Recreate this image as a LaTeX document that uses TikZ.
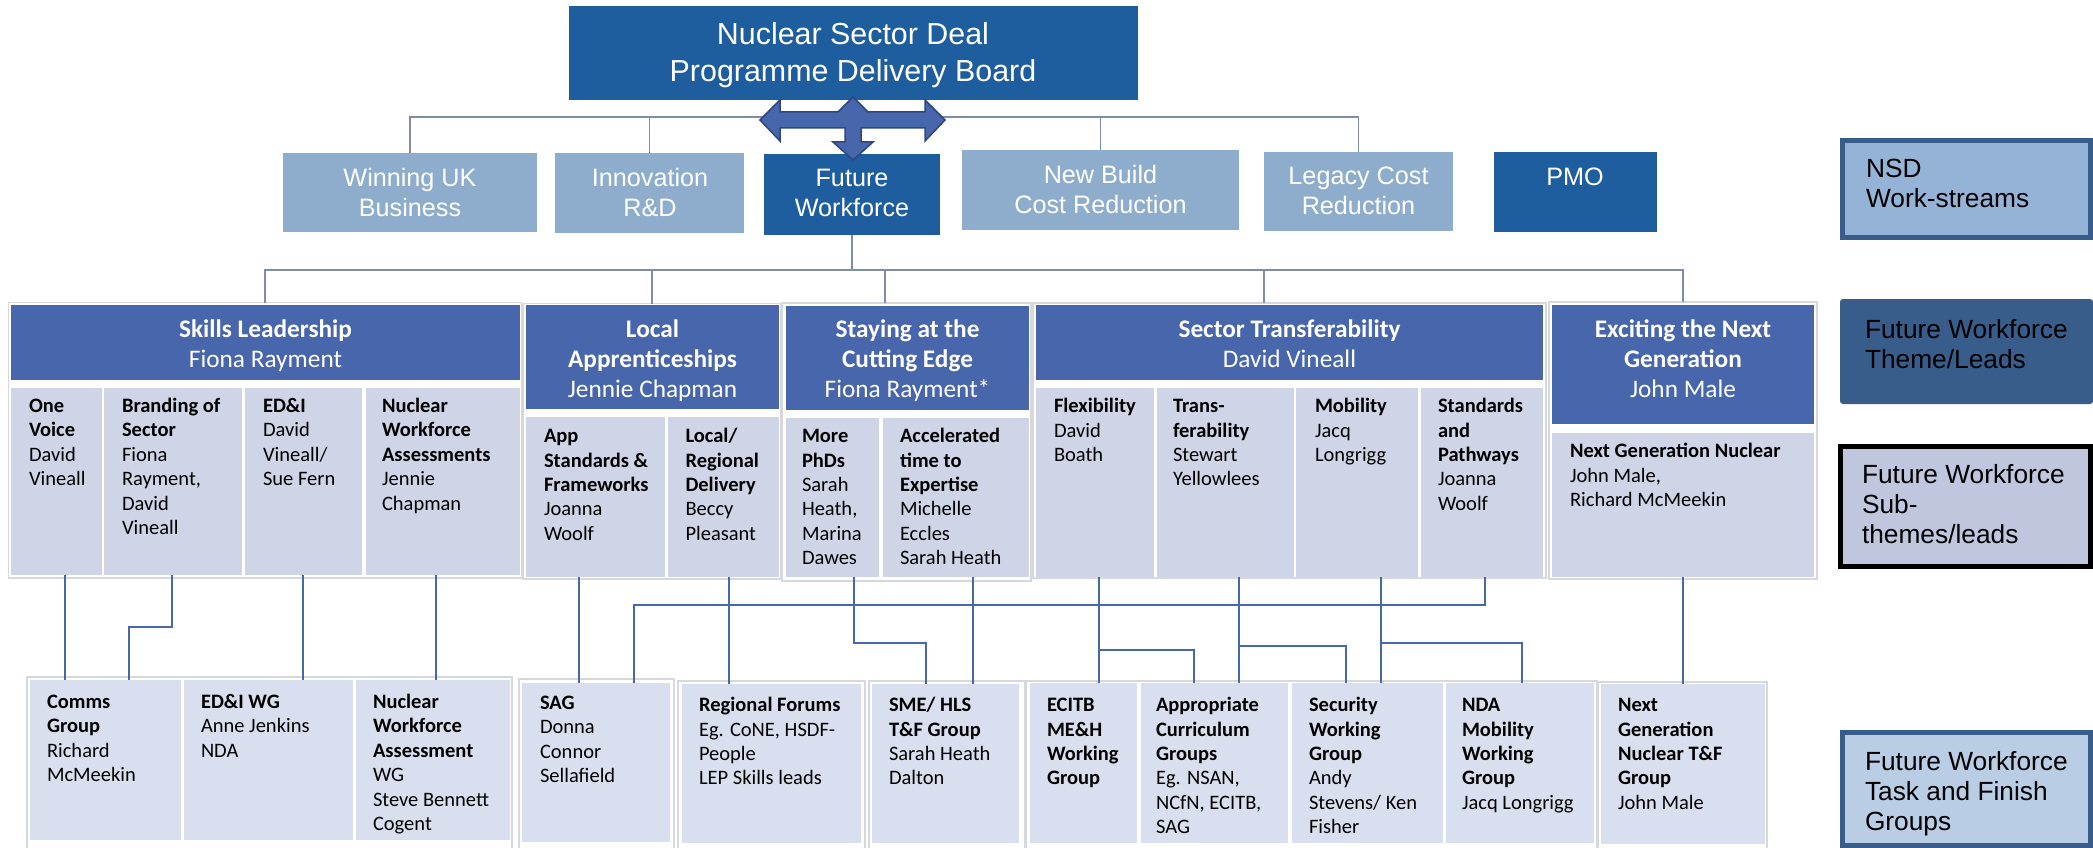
\documentclass[tikz,border=0pt]{standalone}
\usepackage{fontspec}
\setmainfont{Carlito}
\newfontfamily\arialf{Liberation Sans}
\definecolor{dkblue}{RGB}{31,94,158}
\definecolor{wsblue}{RGB}{142,173,205}
\definecolor{hdblue}{RGB}{72,102,172}
\definecolor{subcell}{RGB}{207,212,230}
\definecolor{taskcell}{RGB}{218,223,240}
\definecolor{contgray}{RGB}{214,216,222}
\definecolor{toplinec}{RGB}{128,140,168}
\definecolor{linkblue}{RGB}{72,104,172}
\definecolor{arrowfill}{RGB}{72,102,172}
\definecolor{arrowedge}{RGB}{46,70,128}
\definecolor{legnsd}{RGB}{149,179,215}
\definecolor{legedge}{RGB}{56,93,138}
\definecolor{legsub}{RGB}{192,198,221}
\definecolor{legtask}{RGB}{185,205,229}
\newcommand\fcell{\fontsize{20.5}{24.4}\selectfont}
\newcommand\fhead{\fontsize{25.3}{30.4}\selectfont}
\newcommand\fws{\arialf\fontsize{25.2}{30}\selectfont}
\newcommand\fboard{\arialf\fontsize{30.4}{36.7}\selectfont}
\newcommand\fleg{\arialf\fontsize{26.3}{30.2}\selectfont}
\newcommand\bx[6]{\node[bxs,#6,minimum width={(#4-#2)*1pt},minimum height={(#5-#3)*1pt}] (#1) at (#2,#3) {};}
\begin{document}
\begin{tikzpicture}[x=1pt,y=-1pt,
  bxs/.style={anchor=north west, inner sep=0pt, outer sep=0pt},
  txs/.style={anchor=north west, inner sep=0pt, outer sep=0pt, align=left},
  ctxs/.style={anchor=north, inner sep=0pt, outer sep=0pt, align=center},
  contour/.style={draw=contgray, line width=1.2pt},
  toplink/.style={draw=toplinec, line width=1.6pt},
  sublink/.style={draw=linkblue, line width=2pt},
  dkfill/.style={fill=dkblue},
  wsfill/.style={fill=wsblue},
  hdfill/.style={fill=hdblue},
  subfill/.style={fill=subcell},
  taskfill/.style={fill=taskcell},
  celltext/.style={txs, font=\fcell, text=black},
  headtext/.style={ctxs, font=\fhead, text=white},
  wstext/.style={ctxs, font=\fws, text=white},
  legtext/.style={txs, font=\fleg, text=black}
]
\useasboundingbox (0,0) rectangle (2093,848);
\fill[white] (0,0) rectangle (2093,848);

% ---------- coordinates for bars
\coordinate (wsbar) at (0,117);
\coordinate (thbar) at (0,270);

% ---------- top level
\bx{board}{569}{6}{1138}{100}{dkfill}
\bx{win}{283}{153}{537}{232}{wsfill}
\bx{inn}{555}{153}{744}{233}{wsfill}
\bx{fw}{764}{154}{940}{235}{dkfill}
\bx{nb}{962}{150}{1239}{230}{wsfill}
\bx{leg}{1264}{152}{1453}{231}{wsfill}
\bx{pmo}{1494}{152}{1657}{232}{dkfill}

% ---------- theme containers
\bx{skC}{8.5}{302.5}{521.5}{578}{contour}
\bx{laC}{523}{303.5}{781}{579}{contour}
\bx{stC}{782}{303}{1031}{581}{contour}
\bx{seC}{1033}{303}{1546}{578}{contour}
\bx{exC}{1549}{302}{1817}{579}{contour}

% ---------- headers
\bx{skH}{11}{305}{520}{380}{hdfill}
\bx{laH}{526}{305}{779}{409}{hdfill}
\bx{stH}{786}{306}{1029}{410}{hdfill}
\bx{seH}{1036}{305}{1543}{380}{hdfill}
\bx{exH}{1552}{305}{1814}{424}{hdfill}

% ---------- sub-theme cells
\bx{ov}{11}{388}{102}{575}{subfill}
\bx{br}{104}{388}{242}{575}{subfill}
\bx{ed}{245}{388}{362}{575}{subfill}
\bx{nw}{366}{388}{520}{575}{subfill}
\bx{as}{526}{417}{665}{577}{subfill}
\bx{lr}{668}{417}{779}{577}{subfill}
\bx{mp}{786}{418}{879}{577}{subfill}
\bx{ac}{883}{418}{1029}{577}{subfill}
\bx{fx}{1036}{388}{1154}{577}{subfill}
\bx{tr}{1157}{388}{1294}{577}{subfill}
\bx{mo}{1296}{388}{1418}{577}{subfill}
\bx{sp}{1421}{388}{1543}{577}{subfill}
\bx{ngn}{1552}{433}{1814}{577}{subfill}

% ---------- task group containers
\bx{gA}{27}{677}{512}{852}{contour}
\bx{gS}{519}{679}{674}{852}{contour}
\bx{gR}{678}{681}{865}{852}{contour}
\bx{gM}{869}{681}{1025}{852}{contour}
\bx{gX}{1026.5}{681}{1597}{852}{contour}
\bx{gN}{1598.5}{682}{1767}{852}{contour}

% ---------- task cells
\bx{cg}{30}{680}{181}{840}{taskfill}
\bx{ew}{184}{680}{353}{840}{taskfill}
\bx{nwg}{356}{680}{510}{840}{taskfill}
\bx{sag}{522}{683}{670}{842}{taskfill}
\bx{rf}{682}{684}{861}{843}{taskfill}
\bx{sme}{872}{684}{1019}{843}{taskfill}
\bx{ec}{1030}{683}{1137}{843}{taskfill}
\bx{apc}{1141}{683}{1288}{843}{taskfill}
\bx{sec}{1292}{683}{1443}{843}{taskfill}
\bx{nda}{1446}{683}{1594}{843}{taskfill}
\bx{ngt}{1601}{684}{1765}{844}{taskfill}

% ---------- legend
\node[bxs, fill=legnsd, draw=legedge, line width=5pt, minimum width=248pt, minimum height=96pt] (lgA) at (1842.5,141) {};
\node[bxs, fill=legedge, rounded corners=3pt, minimum width=253pt, minimum height=105pt] (lgB) at (1840,299) {};
\node[bxs, fill=legsub, draw=black, line width=5pt, minimum width=250.5pt, minimum height=120pt] (lgC) at (1840,446.5) {};
\node[bxs, fill=legtask, draw=legedge, line width=5pt, minimum width=248pt, minimum height=113pt] (lgD) at (1842.5,732.5) {};

% ---------- connectors: board level
\draw[toplink] (win.north) |- (leg.north |- wsbar) -- (leg.north);
\draw[toplink] (inn.north) -- (inn.north |- wsbar);
\draw[toplink] (nb.north) -- (nb.north |- wsbar);

% ---------- connectors: future workforce to themes
\draw[toplink] (fw.south) -- (fw.south |- thbar);
\draw[toplink] (skC.north) |- (exC.north |- thbar) -- (exC.north);
\draw[toplink] (laC.north) -- (laC.north |- thbar);
\draw[toplink] (stC.north -| 885,0) -- (885,270);
\draw[toplink] (seC.north -| 1264,0) -- (1264,270);

% ---------- connectors: sub-themes to task groups
\draw[sublink] (ov.south -| 65,0) -- (cg.north -| 65,0);
\draw[sublink] (br.south -| 172,0) -- ++(0,52) -| (cg.north -| 129,0);
\draw[sublink] (ed.south -| 303,0) -- (ew.north -| 303,0);
\draw[sublink] (nw.south -| 436,0) -- (nwg.north -| 436,0);
\draw[sublink] (as.south -| 579,0) -- (sag.north -| 579,0);
\draw[sublink] (sp.south -| 1485,0) -- ++(0,28) -| (sag.north -| 634,0);
\draw[sublink] (lr.south -| 729,0) -- (rf.north -| 729,0);
\draw[sublink] (mp.south -| 854,0) -- ++(0,66) -| (sme.north -| 926,0);
\draw[sublink] (ac.south -| 973,0) -- (sme.north -| 973,0);
\draw[sublink] (fx.south -| 1099,0) -- (ec.north -| 1099,0);
\draw[sublink] (fx.south -| 1099,0) -- ++(0,73) -| (apc.north -| 1194,0);
\draw[sublink] (tr.south -| 1239,0) -- (apc.north -| 1239,0);
\draw[sublink] (tr.south -| 1239,0) -- ++(0,69) -| (sec.north -| 1346,0);
\draw[sublink] (mo.south -| 1381,0) -- (sec.north -| 1381,0);
\draw[sublink] (mo.south -| 1381,0) -- ++(0,66) -| (nda.north -| 1522,0);
\draw[sublink] (ngn.south -| 1683,0) -- (ngt.north -| 1683,0);

% ---------- texts: top
\node[ctxs, font=\fboard, text=white] (boardt) at (853,19.3) {\strut Nuclear Sector Deal\\Programme Delivery Board};
\node[wstext] (wint) at (410,165.7) {\strut Winning UK\\Business};
\node[wstext] (innt) at (650,165.7) {\strut Innovation\\R\&D};
\node[wstext] (fwt) at (852,165.7) {\strut Future\\Workforce};
\node[wstext] (nbt) at (1100.5,162.3) {\strut New Build\\Cost Reduction};
\node[wstext] (legt) at (1358.5,163.3) {\strut Legacy Cost\\Reduction};
\node[wstext] (pmot) at (1575,164) {\strut PMO};

% ---------- texts: headers
\node[headtext] (skHt) at (265.5,315.8) {\strut\textbf{Skills Leadership}\\Fiona Rayment};
\node[headtext] (laHt) at (652.5,315.8) {\strut\textbf{Local}\\\textbf{Apprenticeships}\\Jennie Chapman};
\node[headtext] (stHt) at (907.5,315.8) {\strut\textbf{Staying at the}\\\textbf{Cutting Edge}\\Fiona Rayment*};
\node[headtext] (seHt) at (1289.5,315.8) {\strut\textbf{Sector Transferability}\\David Vineall};
\node[headtext] (exHt) at (1683,315.8) {\strut\textbf{Exciting the Next}\\\textbf{Generation}\\John Male};

% ---------- texts: sub-theme cells
\node[celltext] (ovt) at (29,395.4) {\strut\textbf{One}\\\textbf{Voice}\\David\\Vineall};
\node[celltext] (brt) at (122,395.4) {\strut\textbf{Branding of}\\\textbf{Sector}\\Fiona\\Rayment,\\David\\Vineall};
\node[celltext] (edt) at (263,395.4) {\strut\textbf{ED\&I}\\David\\Vineall/\\Sue Fern};
\node[celltext] (nwt) at (382,395.4) {\strut\textbf{Nuclear}\\\textbf{Workforce}\\\textbf{Assessments}\\Jennie\\Chapman};
\node[celltext] (ast) at (544,425.6) {\strut\textbf{App}\\\textbf{Standards \&}\\\textbf{Frameworks}\\Joanna\\Woolf};
\node[celltext] (lrt) at (685.5,425.6) {\strut\textbf{Local/}\\\textbf{Regional}\\\textbf{Delivery}\\Beccy\\Pleasant};
\node[celltext] (mpt) at (802,425.6) {\strut\textbf{More}\\\textbf{PhDs}\\Sarah\\Heath,\\Marina\\Dawes};
\node[celltext] (act) at (900,425.6) {\strut\textbf{Accelerated}\\\textbf{time to}\\\textbf{Expertise}\\Michelle\\Eccles\\Sarah Heath};
\node[celltext] (fxt) at (1054,395.6) {\strut\textbf{Flexibility}\\David\\Boath};
\node[celltext] (trt) at (1173,395.6) {\strut\textbf{Trans-}\\\textbf{ferability}\\Stewart\\Yellowlees};
\node[celltext] (mot) at (1315,395.6) {\strut\textbf{Mobility}\\Jacq\\Longrigg};
\node[celltext] (spt) at (1438,395.6) {\strut\textbf{Standards}\\\textbf{and}\\\textbf{Pathways}\\Joanna\\Woolf};
\node[celltext] (ngnt) at (1570,440.6) {\strut\textbf{Next Generation Nuclear}\\John Male,\\Richard McMeekin};

% ---------- texts: task cells
\node[celltext] (cgt) at (47,691.4) {\strut\textbf{Comms}\\\textbf{Group}\\Richard\\McMeekin};
\node[celltext] (ewt) at (201,691.4) {\strut\textbf{ED\&I WG}\\Anne Jenkins\\NDA};
\node[celltext] (nwgt) at (373,691.4) {\strut\textbf{Nuclear}\\\textbf{Workforce}\\\textbf{Assessment}\\WG\\Steve Bennett\\Cogent};
\node[celltext] (sagt) at (540,692.2) {\strut\textbf{SAG}\\Donna\\Connor\\Sellafield};
\node[celltext] (rft) at (699,694.7) {\strut\textbf{Regional Forums}\\Eg. CoNE, HSDF-\\People\\LEP Skills leads};
\node[celltext] (smet) at (889,694.7) {\strut\textbf{SME/ HLS}\\\textbf{T\&F Group}\\Sarah Heath\\Dalton};
\node[celltext] (ect) at (1047,694.7) {\strut\textbf{ECITB}\\\textbf{ME\&H}\\\textbf{Working}\\\textbf{Group}};
\node[celltext] (apct) at (1156,694.7) {\strut\textbf{Appropriate}\\\textbf{Curriculum}\\\textbf{Groups}\\Eg. NSAN,\\NCfN, ECITB,\\SAG};
\node[celltext] (sect) at (1309,694.7) {\strut\textbf{Security}\\\textbf{Working}\\\textbf{Group}\\Andy\\Stevens/ Ken\\Fisher};
\node[celltext] (ndat) at (1462,694.7) {\strut\textbf{NDA}\\\textbf{Mobility}\\\textbf{Working}\\\textbf{Group}\\Jacq Longrigg};
\node[celltext] (ngtt) at (1618,694.7) {\strut\textbf{Next}\\\textbf{Generation}\\\textbf{Nuclear T\&F}\\\textbf{Group}\\John Male};

% ---------- texts: legend
\node[legtext] (lgAt) at (1866,155.9) {\strut NSD\\Work-streams};
\node[legtext] (lgBt) at (1865,316.9) {\strut Future Workforce\\Theme/Leads};
\node[legtext] (lgCt) at (1862,461.9) {\strut Future Workforce\\Sub-\\themes/leads};
\node[legtext] (lgDt) at (1865,748.9) {\strut Future Workforce\\Task and Finish\\Groups};

% ---------- quad arrow
\filldraw[fill=arrowfill, draw=arrowedge, line width=1.5pt, line join=miter]
 (760,120) -- (780,100) -- (780,112) -- (838,112) -- (853,97) -- (868,112) -- (925,112) -- (925,100)
 -- (945,120) -- (925,141) -- (925,128) -- (861,128) -- (861,142) -- (873,142) -- (853,160)
 -- (833,142) -- (845,142) -- (845,128) -- (780,128) -- (780,141) -- cycle;
\end{tikzpicture}
\end{document}
